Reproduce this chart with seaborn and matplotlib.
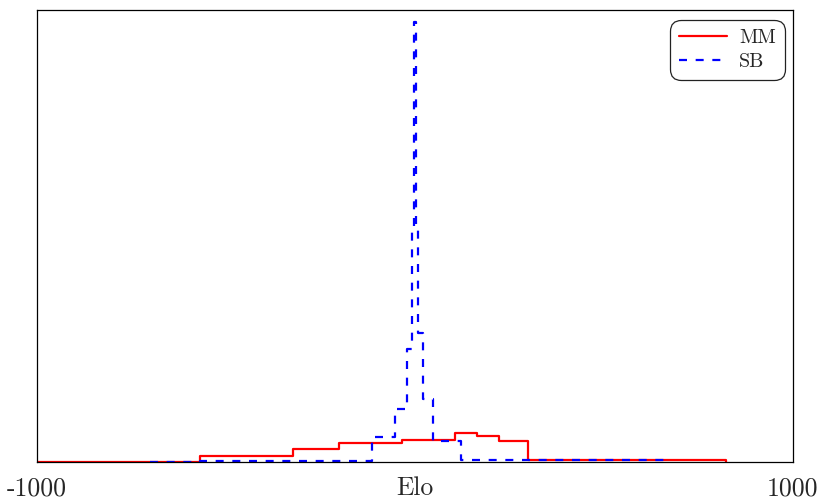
import numpy as np
import pandas as pd
import seaborn as sns
import matplotlib.pyplot as plt

# dados (alturas, unidades relativas)
mm_edges = [-1000, -569, -323, -201, -34, 106, 164, 222, 299, 823, 824]
mm_heights = [0.3, 6, 13, 19, 22, 29, 26, 21, 2, 0]

sb_edges = [-702, -701, -569, -114, -53, -21, -8, -1.5, 1.5, 8, 21, 48, 122, 669, 670]
sb_heights = [0, 0.5, 1.5, 25, 53, 113, 231, 440, 233, 129, 63, 21, 2, 0]

x_ticks = [-1000, 0, 1000]
x_ticklabels = ["-1000", "Elo", "1000"]


def to_frame(edges, heights):
    edges = np.array(edges, dtype=float)
    centers = (edges[:-1] + edges[1:]) / 2
    return pd.DataFrame({"elo": centers, "w": heights})


def main():
    sns.set_style("white")
    plt.rcParams["font.family"] = ["cmr10", "DejaVu Serif"]
    plt.rcParams["mathtext.fontset"] = "cm"
    plt.rcParams["axes.formatter.use_mathtext"] = True
    plt.rcParams["axes.unicode_minus"] = False

    fig = plt.figure(figsize=(8.19, 4.99), dpi=100)
    ax = fig.add_axes([0.0452, 0.0741, 0.923, 0.906])

    df_mm = to_frame(mm_edges, mm_heights)
    df_sb = to_frame(sb_edges, sb_heights)

    sns.histplot(data=df_mm, x="elo", weights="w", bins=mm_edges, stat="count",
                 element="step", fill=False, color="red", lw=1.6, label="MM", ax=ax)
    sns.histplot(data=df_sb, x="elo", weights="w", bins=sb_edges, stat="count",
                 element="step", fill=False, color="blue", lw=1.6,
                 ls=(0, (3.6, 3.9)), label="SB", ax=ax)

    ax.set_xlim(-1000, 1000)
    ax.set_ylim(0, 452)
    ax.set_xticks(x_ticks)
    ax.set_xticklabels(x_ticklabels, fontsize=18.5)
    ax.set_yticks([])
    ax.set_xlabel("")
    ax.set_ylabel("")
    ax.tick_params(axis="x", length=0, pad=10.5)
    for s in ax.spines.values():
        s.set_color("black")
        s.set_linewidth(0.9)

    leg = ax.legend(loc="upper right", bbox_to_anchor=(0.9894, 0.978),
                    borderaxespad=0, fontsize=14.5, handlelength=2.4,
                    handletextpad=0.6, labelspacing=0.3, borderpad=0.45,
                    frameon=True, fancybox=True, framealpha=1)
    frame = leg.get_frame()
    frame.set_boxstyle("round", pad=0, rounding_size=0.55)
    frame.set_edgecolor("#222222")
    frame.set_linewidth(0.9)

    fig.savefig("out.png", dpi=100)


if __name__ == "__main__":
    main()
